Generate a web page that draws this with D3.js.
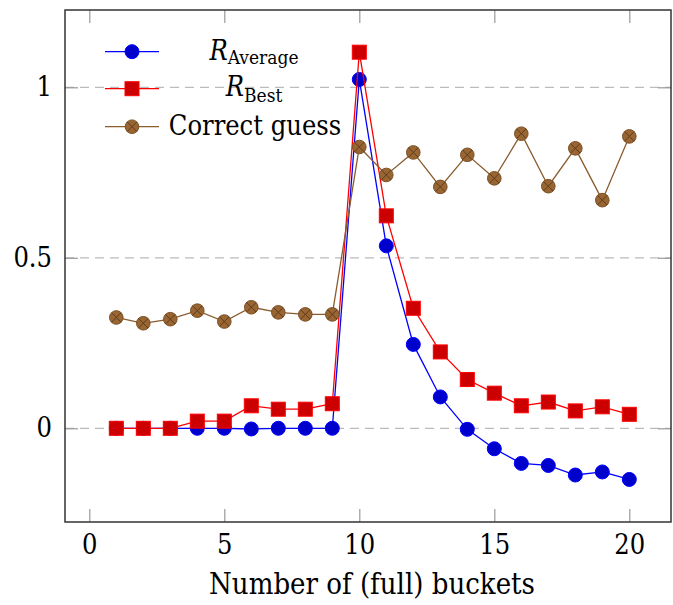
<!DOCTYPE html>
<meta charset="utf-8">
<style>
body { margin: 0; background: #fff; }
text { font-family: "DejaVu Serif", serif; font-stretch: condensed; fill: #000; }
</style>
<svg width="673" height="605"></svg>
<script src="https://d3js.org/d3.v7.min.js"></script>
<script>

// data
var buckets = [1,2,3,4,5,6,7,8,9,10,11,12,13,14,15,16,17,18,19,20];
var rAverage = [0,0,0,0,0,-0.002,0,0,0,1.023,0.535,0.246,0.092,-0.003,-0.06,-0.103,-0.109,-0.137,-0.128,-0.15];
var rBest = [0,0,0,0.021,0.021,0.066,0.056,0.056,0.072,1.103,0.623,0.352,0.224,0.143,0.103,0.066,0.077,0.051,0.063,0.041];
var correctGuess = [0.325,0.308,0.32,0.345,0.313,0.355,0.34,0.334,0.334,0.825,0.743,0.809,0.708,0.802,0.733,0.864,0.71,0.821,0.669,0.856];
var xTicks = [0,5,10,15,20];
var yTicks = [0,0.5,1];
var xLabel = "Number of (full) buckets";

var svg = d3.select("svg");
var mLeft = 65, mRight = 671, mTop = 10, mBottom = 522;

var x = d3.scaleLinear().domain([-0.9, 21.544]).range([mLeft, mRight]);
var y = d3.scaleLinear().domain([-0.2748, 1.2267]).range([mBottom, mTop]);

// grid
svg.append("g").selectAll("line").data(yTicks).enter().append("line")
  .attr("x1", mLeft).attr("x2", mRight)
  .attr("y1", d => y(d)).attr("y2", d => y(d))
  .attr("stroke", "#bbb").attr("stroke-width", 1.2)
  .attr("stroke-dasharray", "9,6");

// axes with inside ticks
var tickLen = 13;
var xAxisB = svg.append("g").attr("transform", "translate(0," + mBottom + ")")
  .call(d3.axisBottom(x).tickValues(xTicks).tickSize(-tickLen).tickPadding(13).tickFormat(d3.format("d")));
var xAxisT = svg.append("g").attr("transform", "translate(0," + mTop + ")")
  .call(d3.axisTop(x).tickValues(xTicks).tickSize(-tickLen).tickFormat(""));
var yAxisL = svg.append("g").attr("transform", "translate(" + mLeft + ",0)")
  .call(d3.axisLeft(y).tickValues(yTicks).tickSize(-tickLen).tickPadding(13).tickFormat(d => d));
var yAxisR = svg.append("g").attr("transform", "translate(" + mRight + ",0)")
  .call(d3.axisRight(y).tickValues(yTicks).tickSize(-tickLen).tickFormat(""));

[xAxisB, xAxisT, yAxisL, yAxisR].forEach(function(a) {
  a.select(".domain").remove();
  a.selectAll(".tick line").attr("stroke", "#999").attr("stroke-width", 1.2);
  a.selectAll("text").style("font-size", "27px").attr("fill", "#000");
});

// frame
svg.append("rect").attr("x", mLeft).attr("y", mTop)
  .attr("width", mRight - mLeft).attr("height", mBottom - mTop)
  .attr("fill", "none").attr("stroke", "#333").attr("stroke-width", 1.5);

// series
var series = [
  {vals: rAverage, line: "#0000ff", fill: "#0000cc", stroke: "#0000ff", mark: "circle"},
  {vals: rBest, line: "#ff0000", fill: "#cc0000", stroke: "#ff0000", mark: "square"},
  {vals: correctGuess, line: "#8a5c2e", fill: "#996633", stroke: "#7a4f25", mark: "otimes"}
];

function drawMark(g, s, cx, cy) {
  if (s.mark == "circle") {
    g.append("circle").attr("cx", cx).attr("cy", cy).attr("r", 7)
      .attr("fill", s.fill).attr("stroke", s.stroke).attr("stroke-width", 1);
  } else if (s.mark == "square") {
    g.append("rect").attr("x", cx - 7).attr("y", cy - 7).attr("width", 14).attr("height", 14)
      .attr("fill", s.fill).attr("stroke", s.stroke).attr("stroke-width", 1);
  } else {
    g.append("circle").attr("cx", cx).attr("cy", cy).attr("r", 6.8)
      .attr("fill", s.fill).attr("stroke", s.stroke).attr("stroke-width", 1);
    var k = 6.8 * Math.SQRT1_2;
    g.append("path")
      .attr("d", "M" + (cx - k) + "," + (cy - k) + "L" + (cx + k) + "," + (cy + k) +
                 "M" + (cx - k) + "," + (cy + k) + "L" + (cx + k) + "," + (cy - k))
      .attr("stroke", "#5e3c1a").attr("stroke-width", 1);
  }
}

var line = d3.line().x((d, i) => x(buckets[i])).y(d => y(d));

series.forEach(function(s) {
  var g = svg.append("g");
  g.append("path").datum(s.vals).attr("d", line)
    .attr("fill", "none").attr("stroke", s.line).attr("stroke-width", 1.3);
  s.vals.forEach(function(v, i) { drawMark(g, s, x(buckets[i]), y(v)); });
});

// legend
var legendRows = [51.7, 88.7, 126.7];
series.forEach(function(s, i) {
  var g = svg.append("g");
  g.append("line").attr("x1", 105).attr("x2", 159)
    .attr("y1", legendRows[i]).attr("y2", legendRows[i])
    .attr("stroke", s.line).attr("stroke-width", 1.3);
  drawMark(g, s, 132, legendRows[i]);
});

var lt1 = svg.append("text").attr("x", 254).attr("y", 60).attr("text-anchor", "middle");
lt1.append("tspan").text("R").style("font-style", "italic").style("font-size", "27px");
lt1.append("tspan").text("Average").attr("dy", 4).style("font-size", "19px");

var lt2 = svg.append("text").attr("x", 254).attr("y", 96).attr("text-anchor", "middle");
lt2.append("tspan").text("R").style("font-style", "italic").style("font-size", "27px");
lt2.append("tspan").text("Best").attr("dy", 6).style("font-size", "19px");

svg.append("text").attr("x", 255).attr("y", 135).attr("text-anchor", "middle")
  .style("font-size", "27px").text("Correct guess");

// x label
svg.append("text").attr("x", 372).attr("y", 594).attr("text-anchor", "middle")
  .style("font-size", "29px").text(xLabel);

</script>
